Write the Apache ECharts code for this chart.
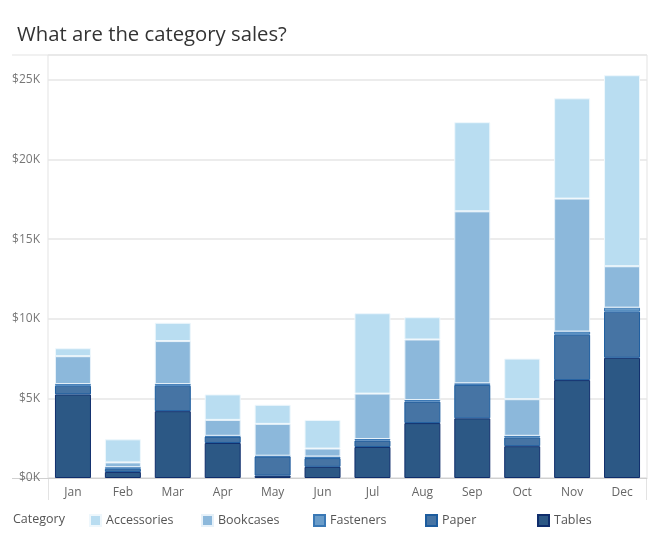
<!DOCTYPE html>
<html>
<head>
<meta charset="utf-8">
<script src="https://cdn.jsdelivr.net/npm/echarts@6/dist/echarts.min.js"></script>
<style>
html,body{margin:0;padding:0;background:#fff;}
#chart{width:660px;height:545px;}
</style>
</head>
<body>
<div id="chart"></div>
<script>
const months = ['Jan','Feb','Mar','Apr','May','Jun','Jul','Aug','Sep','Oct','Nov','Dec'];
const tables      = [5250, 380, 4200, 2200, 150, 700, 1950, 3450, 3750, 2000, 6150, 7550];
const paper       = [550, 200, 1600, 400, 1200, 550, 400, 1350, 2100, 550, 2850, 2900];
const fasteners   = [100, 100, 100, 50, 50, 100, 100, 100, 100, 100, 200, 250];
const bookcases   = [1750, 300, 2700, 1000, 2000, 500, 2850, 3800, 10800, 2300, 8350, 2600];
const accessories = [500, 1450, 1150, 1600, 1200, 1800, 5050, 1400, 5600, 2550, 6300, 12000];
const yTicks = [0, 5000, 10000, 15000, 20000, 25000];
const legendOrder = ['Accessories','Bookcases','Fasteners','Paper','Tables'];

const FONT = 'Open Sans';
const chart = echarts.init(document.getElementById('chart'), null, {renderer:'canvas'});

function ser(name, data, color, border) {
  return {
    name: name, type: 'bar', stack: 'total', data: data, barWidth: 36,
    itemStyle: { color: color, borderColor: border, borderWidth: 1 },
    emphasis: { disabled: true }
  };
}

const legends = legendOrder.map(function (name, i) {
  return {
    left: 84 + i * 112, top: 509, itemWidth: 11, itemHeight: 11, itemGap: 10,
    icon: 'rect', data: [name], selectedMode: false,
    textStyle: { fontFamily: FONT, fontSize: 12.5, color: '#555' }
  };
});

chart.setOption({
  animation: false,
  backgroundColor: '#fff',
  title: [
    { text: 'What are the category sales?', left: 12, top: 20,
      textStyle: { fontFamily: FONT, fontSize: 20.3, fontWeight: 'normal', color: '#333' } },
    { text: 'Category', left: 8, top: 508,
      textStyle: { fontFamily: FONT, fontSize: 12.5, fontWeight: 'normal', color: '#555' } }
  ],
  grid: { left: 48, right: 13, top: 55, bottom: 67, show: true, borderColor: '#e3e3e3', borderWidth: 1 },
  legend: legends,
  xAxis: {
    type: 'category', data: months,
    axisLine: { show: true, lineStyle: { color: '#d0d0d0', width: 1 } },
    axisTick: { show: false },
    axisLabel: { fontFamily: FONT, fontSize: 12, color: '#666', margin: 9 }
  },
  yAxis: {
    type: 'value', min: 0, max: 26570, interval: 5000,
    axisLine: { show: false }, axisTick: { show: false },
    splitLine: { lineStyle: { color: '#e6e6e6', width: 1.5 } },
    axisLabel: {
      fontFamily: FONT, fontSize: 12, color: '#777', margin: 8,
      formatter: function (v) { return yTicks.indexOf(v) >= 0 ? '$' + (v/1000) + 'K' : ''; }
    }
  },
  graphic: [
    { type: 'line', shape: { x1: 12, y1: 55, x2: 48, y2: 55 }, style: { stroke: '#e3e3e3', lineWidth: 1 } },
    { type: 'line', shape: { x1: 12, y1: 478.5, x2: 48, y2: 478.5 }, style: { stroke: '#d0d0d0', lineWidth: 1 } },
    { type: 'line', shape: { x1: 48.5, y1: 478, x2: 48.5, y2: 500 }, style: { stroke: '#e3e3e3', lineWidth: 1 } },
    { type: 'line', shape: { x1: 646.5, y1: 478, x2: 646.5, y2: 500 }, style: { stroke: '#e3e3e3', lineWidth: 1 } }
  ],
  series: [
    ser('Tables', tables, '#2c5885', '#0f2d6c'),
    ser('Paper', paper, '#4674a4', '#1d5c9e'),
    ser('Fasteners', fasteners, '#6a9cc9', '#3a78b5'),
    ser('Bookcases', bookcases, '#8cb8db', '#e6f1f9'),
    ser('Accessories', accessories, '#b9ddf1', '#eef7fc')
  ]
});
</script>
</body>
</html>
